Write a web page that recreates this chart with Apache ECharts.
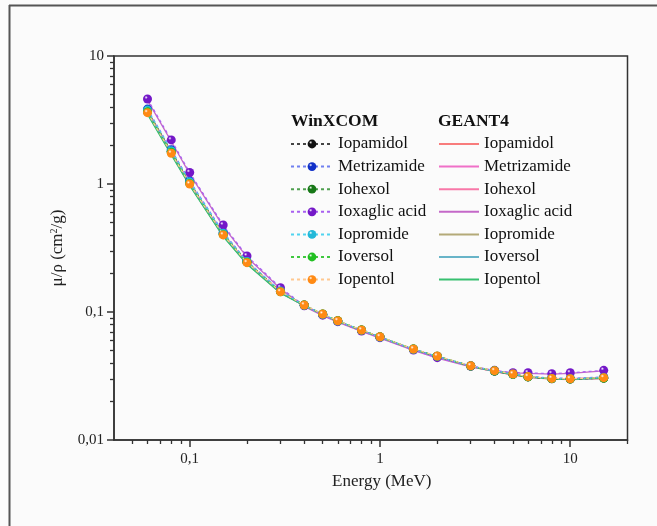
<!DOCTYPE html>
<html>
<head>
<meta charset="utf-8">
<script src="https://cdn.jsdelivr.net/npm/echarts@6/dist/echarts.min.js"></script>
<style>
  html, body { margin: 0; padding: 0; background: #fbfbfb; }
  #chart { width: 657px; height: 526px; }
</style>
</head>
<body>
<div id="chart"></div>
<script>
// Photon energies (MeV)
const energies = [0.06, 0.08, 0.1, 0.15, 0.2, 0.3, 0.4, 0.5, 0.6, 0.8, 1, 1.5, 2, 3, 4, 5, 6, 8, 10, 15];

// Mass attenuation coefficients (cm^2/g), WinXCOM
const winIopamidol   = [3.72, 1.80, 1.03, 0.410, 0.247, 0.145, 0.1130, 0.0960, 0.0851, 0.0721, 0.0638, 0.0512, 0.0450, 0.0378, 0.0345, 0.0326, 0.0311, 0.0301, 0.0299, 0.0304];
const winMetrizamide = [3.85, 1.85, 1.06, 0.420, 0.250, 0.146, 0.1128, 0.0957, 0.0848, 0.0719, 0.0636, 0.0511, 0.0450, 0.0379, 0.0347, 0.0328, 0.0314, 0.0305, 0.0303, 0.0311];
const winIohexol     = [3.70, 1.79, 1.02, 0.405, 0.246, 0.145, 0.1132, 0.0962, 0.0853, 0.0722, 0.0639, 0.0513, 0.0451, 0.0378, 0.0346, 0.0326, 0.0312, 0.0302, 0.0300, 0.0305];
const winIoxaglic    = [4.61, 2.21, 1.23, 0.478, 0.274, 0.155, 0.1120, 0.0945, 0.0840, 0.0710, 0.0630, 0.0505, 0.0440, 0.0378, 0.0350, 0.0336, 0.0335, 0.0330, 0.0335, 0.0350];
const winIopromide   = [3.78, 1.82, 1.04, 0.412, 0.248, 0.146, 0.1131, 0.0960, 0.0851, 0.0721, 0.0638, 0.0512, 0.0451, 0.0379, 0.0347, 0.0327, 0.0313, 0.0303, 0.0301, 0.0307];
const winIoversol    = [3.66, 1.77, 1.01, 0.402, 0.245, 0.144, 0.1133, 0.0963, 0.0854, 0.0723, 0.0640, 0.0513, 0.0452, 0.0379, 0.0347, 0.0327, 0.0312, 0.0302, 0.0300, 0.0305];
const winIopentol    = [3.61, 1.74, 1.00, 0.400, 0.243, 0.144, 0.1135, 0.0964, 0.0855, 0.0724, 0.0641, 0.0514, 0.0453, 0.0380, 0.0348, 0.0328, 0.0313, 0.0303, 0.0301, 0.0307];

// Mass attenuation coefficients (cm^2/g), GEANT4
const g4Iopamidol   = [3.62, 1.74, 0.990, 0.395, 0.240, 0.142, 0.1120, 0.0952, 0.0845, 0.0716, 0.0633, 0.0508, 0.0447, 0.0375, 0.0342, 0.0323, 0.0309, 0.0299, 0.0297, 0.0302];
const g4Metrizamide = [3.74, 1.79, 1.020, 0.405, 0.243, 0.143, 0.1115, 0.0950, 0.0842, 0.0714, 0.0632, 0.0508, 0.0447, 0.0376, 0.0344, 0.0325, 0.0311, 0.0302, 0.0301, 0.0309];
const g4Iohexol     = [3.60, 1.73, 0.985, 0.393, 0.239, 0.142, 0.1118, 0.0954, 0.0846, 0.0717, 0.0634, 0.0509, 0.0448, 0.0375, 0.0343, 0.0323, 0.0310, 0.0300, 0.0298, 0.0303];
const g4Ioxaglic    = [4.50, 2.15, 1.200, 0.466, 0.268, 0.152, 0.1105, 0.0938, 0.0834, 0.0706, 0.0626, 0.0502, 0.0437, 0.0372, 0.0345, 0.0334, 0.0332, 0.0327, 0.0332, 0.0347];
const g4Iopromide   = [3.67, 1.76, 1.000, 0.400, 0.241, 0.143, 0.1118, 0.0952, 0.0845, 0.0716, 0.0633, 0.0509, 0.0448, 0.0376, 0.0344, 0.0324, 0.0311, 0.0301, 0.0299, 0.0305];
const g4Ioversol    = [3.56, 1.71, 0.980, 0.391, 0.238, 0.141, 0.1119, 0.0955, 0.0847, 0.0718, 0.0635, 0.0509, 0.0449, 0.0376, 0.0344, 0.0324, 0.0310, 0.0300, 0.0298, 0.0303];
const g4Iopentol    = [3.50, 1.69, 0.970, 0.388, 0.236, 0.140, 0.1120, 0.0956, 0.0848, 0.0719, 0.0636, 0.0510, 0.0449, 0.0377, 0.0345, 0.0325, 0.0311, 0.0301, 0.0299, 0.0305];

// Compound names and tick positions
const compounds = ['Iopamidol', 'Metrizamide', 'Iohexol', 'Ioxaglic acid', 'Iopromide', 'Ioversol', 'Iopentol'];
const xMajorTicks = [0.1, 1, 10];
const xMinorTicks = [0.05, 0.06, 0.07, 0.08, 0.09, 0.2, 0.3, 0.4, 0.5, 0.6, 0.7, 0.8, 0.9, 2, 3, 4, 5, 6, 7, 8, 9, 20];
const yMajorTicks = [0.01, 0.1, 1, 10];
const yMinorTicks = [0.02, 0.03, 0.04, 0.05, 0.06, 0.07, 0.08, 0.09, 0.2, 0.3, 0.4, 0.5, 0.6, 0.7, 0.8, 0.9, 2, 3, 4, 5, 6, 7, 8, 9];

const winData = [winIopamidol, winMetrizamide, winIohexol, winIoxaglic, winIopromide, winIoversol, winIopentol];
const g4Data = [g4Iopamidol, g4Metrizamide, g4Iohexol, g4Ioxaglic, g4Iopromide, g4Ioversol, g4Iopentol];

// Marker (ball) colours and dashed-line colours for WinXCOM
const winBall = ['#111111', '#1030c8', '#187818', '#7418c8', '#22b8d8', '#22c022', '#ff8a14'];
const winDash = ['#444444', '#7080f0', '#50a050', '#a860f0', '#50d4f0', '#40c840', '#ffc890'];
// Solid line colours for GEANT4
const g4Line = ['#f87c7c', '#f070c8', '#f878a8', '#c468c8', '#b4aa78', '#68b4c8', '#38c070'];

const FONT = '"Liberation Serif", "Times New Roman", serif';

function ball(c) {
  return {
    type: 'radial', x: 0.35, y: 0.32, r: 0.75,
    colorStops: [
      { offset: 0, color: '#ffffff' },
      { offset: 0.25, color: c },
      { offset: 1, color: c }
    ]
  };
}

function pairs(vals) {
  return energies.map((e, i) => [e, vals[i]]);
}

const series = [];
compounds.forEach((name, i) => {
  series.push({
    name: 'G|' + name,
    type: 'line',
    data: pairs(g4Data[i]),
    symbol: 'none',
    z: 2,
    lineStyle: { color: g4Line[i], width: 1.3, type: 'solid' },
    itemStyle: { color: g4Line[i] },
    emphasis: { disabled: true },
    animation: false
  });
});
compounds.forEach((name, i) => {
  series.push({
    name: 'W|' + name,
    type: 'line',
    data: pairs(winData[i]),
    symbol: 'circle',
    symbolSize: 9,
    z: 3 + i,
    lineStyle: { color: winDash[i], width: 1.2, type: [3, 3] },
    itemStyle: { color: ball(winBall[i]) },
    emphasis: { disabled: true },
    animation: false
  });
});

const commaFmt = v => String(v).replace('.', ',');

const option = {
  backgroundColor: '#fbfbfb',
  animation: false,
  grid: {
    left: 114, right: 29.5, top: 56, bottom: 86,
    show: true, borderColor: '#333', borderWidth: 1.5, backgroundColor: 'transparent'
  },
  xAxis: [
    {
      type: 'log', logBase: 10, min: 0.04, max: 20, position: 'bottom',
      name: 'Energy (MeV)', nameLocation: 'middle', nameGap: 33,
      nameTextStyle: { fontFamily: FONT, fontSize: 17, color: '#222', padding: [0, 0, 0, 22] },
      axisLine: { show: true, lineStyle: { color: '#333', width: 1.5 } },
      axisTick: { show: true, length: 7, customValues: xMajorTicks, lineStyle: { color: '#333', width: 1.5 } },
      axisLabel: { customValues: xMajorTicks, formatter: commaFmt, margin: 12, fontFamily: FONT, fontSize: 15, color: '#222' },
      splitLine: { show: false }, minorTick: { show: false }
    },
    {
      type: 'log', logBase: 10, min: 0.04, max: 20, position: 'bottom',
      axisLine: { show: false },
      axisTick: { show: true, length: 4, customValues: xMinorTicks, lineStyle: { color: '#333', width: 1.3 } },
      axisLabel: { show: false },
      splitLine: { show: false }
    }
  ],
  yAxis: [
    {
      type: 'log', logBase: 10, min: 0.01, max: 10, position: 'left',
      name: 'μ/ρ (cm{sup|2}/g)', nameLocation: 'middle', nameGap: 47,
      nameTextStyle: {
        fontFamily: FONT, fontSize: 17, color: '#222',
        rich: { sup: { fontFamily: FONT, fontSize: 10, verticalAlign: 'top', padding: [0, 0, 8, 0], color: '#222' } }
      },
      axisLine: { show: true, lineStyle: { color: '#333', width: 1.5 } },
      axisTick: { show: true, length: 7, customValues: yMajorTicks, lineStyle: { color: '#333', width: 1.5 } },
      axisLabel: { customValues: yMajorTicks, formatter: commaFmt, margin: 10, fontFamily: FONT, fontSize: 15, color: '#222' },
      splitLine: { show: false }, minorTick: { show: false }
    },
    {
      type: 'log', logBase: 10, min: 0.01, max: 10, position: 'left',
      axisLine: { show: false },
      axisTick: { show: true, length: 4, customValues: yMinorTicks, lineStyle: { color: '#333', width: 1.3 } },
      axisLabel: { show: false },
      splitLine: { show: false }
    }
  ],
  legend: [
    {
      data: compounds.map(n => 'W|' + n),
      orient: 'vertical', left: 290, top: 135.5, padding: 0,
      itemWidth: 42, itemHeight: 11, itemGap: 5.6,
      selectedMode: false,
      formatter: n => n.split('|')[1],
      textStyle: { fontFamily: FONT, fontSize: 17, color: '#111' }
    },
    {
      data: compounds.map(n => 'G|' + n),
      orient: 'vertical', left: 438, top: 135.5, padding: 0,
      itemWidth: 40, itemHeight: 11, itemGap: 5.6,
      selectedMode: false,
      itemStyle: { opacity: 0, borderWidth: 0 },
      formatter: n => n.split('|')[1],
      textStyle: { fontFamily: FONT, fontSize: 17, color: '#111' }
    }
  ],
  graphic: [
    { type: 'text', left: 291, top: 112, style: { text: 'WinXCOM', font: 'bold 17.5px ' + FONT, fill: '#111' } },
    { type: 'text', left: 438, top: 112, style: { text: 'GEANT4', font: 'bold 17.5px ' + FONT, fill: '#111' } },
    { type: 'line', shape: { x1: 9, y1: 5.5, x2: 657, y2: 5.5 }, style: { stroke: '#555', lineWidth: 2 } },
    { type: 'line', shape: { x1: 9.5, y1: 5, x2: 9.5, y2: 526 }, style: { stroke: '#555', lineWidth: 2 } }
  ],
  series: series
};

const chart = echarts.init(document.getElementById('chart'), null, { renderer: 'canvas' });
chart.setOption(option);
</script>
</body>
</html>
